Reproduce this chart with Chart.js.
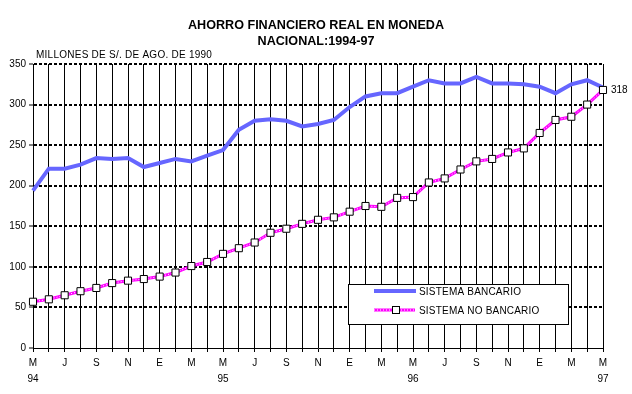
<!DOCTYPE html>
<html><head><meta charset="utf-8">
<script src="https://cdn.jsdelivr.net/npm/chart.js@4.4.0/dist/chart.umd.min.js"></script>
<style>html,body{margin:0;padding:0;background:#fff;overflow:hidden}canvas{display:block}</style>
</head><body>
<canvas id="c" width="632" height="394"></canvas>
<script>
// ---- data ----
const monthCycle = ['M','J','J','A','S','O','N','D','E','F','M','A'];
const months = [].concat(monthCycle, monthCycle, monthCycle, ['M']); // May 94 .. May 97
const years = ['94','95','96','97'];
const bancario = [194,221,221,226,234,233,234,223,228,233,230,237,244,269,280,282,280,273,276,281,297,310,314,314,322,330,326,326,334,326,326,325,322,314,325,330,321];
const noBancario = [57,60,65,70,74,80,83,85,88,93,101,106,116,123,130,142,147,153,158,161,168,175,174,185,186,204,209,220,230,233,241,246,265,281,285,300,318];
const seriesNames = ['SISTEMA BANCARIO','SISTEMA NO BANCARIO'];
const titleLines = ['AHORRO FINANCIERO REAL EN MONEDA','NACIONAL:1994-97'];
const yTitle = 'MILLONES DE S/. DE AGO. DE 1990';
const yMin = 0, yMax = 350, yStep = 50;

const FONT = 'Arial, "Liberation Sans", sans-serif';
const BLUE = '#6666ff', MAG = '#ff00ff';

const deco = {
  id: 'deco',
  afterDatasetsDraw(chart) {
    const ctx = chart.ctx, xs = chart.scales.x, ys = chart.scales.y;
    ctx.save();
    // end value label
    const last = noBancario.length - 1;
    ctx.font = '10px ' + FONT; ctx.fillStyle = '#000';
    ctx.textAlign = 'left'; ctx.textBaseline = 'middle';
    ctx.fillText(String(noBancario[last]), xs.getPixelForValue(last) + 8, ys.getPixelForValue(noBancario[last]));
    // legend
    const lx = 348, ly = 284, lw = 220, lh = 40;
    ctx.fillStyle = '#fff'; ctx.fillRect(lx, ly, lw, lh);
    ctx.strokeStyle = '#000'; ctx.lineWidth = 1; ctx.strokeRect(lx + 0.5, ly + 0.5, lw, lh);
    ctx.strokeStyle = BLUE; ctx.lineWidth = 4;
    ctx.beginPath(); ctx.moveTo(374, 291); ctx.lineTo(416, 291); ctx.stroke();
    ctx.strokeStyle = MAG; ctx.lineWidth = 3;
    ctx.beginPath(); ctx.moveTo(374, 310); ctx.lineTo(415, 310); ctx.stroke();
    ctx.strokeStyle = '#fff'; ctx.lineWidth = 1; ctx.setLineDash([1, 2]);
    ctx.beginPath(); ctx.moveTo(374, 310); ctx.lineTo(415, 310); ctx.stroke();
    ctx.setLineDash([]);
    ctx.fillStyle = '#fff'; ctx.fillRect(392, 306, 7, 7);
    ctx.strokeStyle = '#000'; ctx.strokeRect(392.5, 306.5, 7, 7);
    ctx.fillStyle = '#000';
    ctx.letterSpacing = '0.2px';
    ctx.fillText(seriesNames[0], 419, 292);
    ctx.fillText(seriesNames[1], 419, 311);
    ctx.restore();
  },
  afterDraw(chart) {
    const ctx = chart.ctx;
    ctx.save();
    ctx.fillStyle = '#000'; ctx.textBaseline = 'middle';
    ctx.textAlign = 'center'; ctx.font = 'bold 12.6px ' + FONT;
    ctx.fillText(titleLines[0], 316, 26);
    ctx.fillText(titleLines[1], 316, 42);
    ctx.textAlign = 'left'; ctx.font = '10px ' + FONT;
    ctx.letterSpacing = '0.25px';
    ctx.fillText(yTitle, 36, 55);
    ctx.restore();
  }
};

new Chart(document.getElementById('c'), {
  type: 'line',
  data: {
    labels: months,
    datasets: [
      { label: 'markers', data: noBancario, showLine: false, pointStyle: 'rect', pointRadius: 5, pointHoverRadius: 5,
        pointBackgroundColor: '#fff', pointBorderColor: '#000', pointBorderWidth: 1, clip: false, order: 0 },
      { label: 'dash', data: noBancario, borderColor: '#fff', borderWidth: 1, borderDash: [1, 2], pointRadius: 0, tension: 0, fill: false, order: 1 },
      { label: seriesNames[1], data: noBancario, borderColor: MAG, borderWidth: 3, pointRadius: 0, tension: 0, fill: false, order: 2 },
      { label: seriesNames[0], data: bancario, borderColor: BLUE, borderWidth: 4, pointRadius: 0, tension: 0, fill: false, order: 3, clip: false }
    ]
  },
  options: {
    responsive: false, animation: false, devicePixelRatio: 1,
    layout: { padding: { top: 64, right: 29, left: 0, bottom: 0 } },
    plugins: { legend: { display: false }, tooltip: { enabled: false }, title: { display: false } },
    scales: {
      x: {
        offset: false,
        grid: { color: '#000', lineWidth: 1, tickLength: 4, tickColor: '#000', tickWidth: 1 },
        border: { display: true, color: '#000', width: 1 },
        ticks: {
          autoSkip: false, maxRotation: 0, minRotation: 0, padding: 3, color: '#000',
          font: { family: FONT, size: 10, lineHeight: 1.6 },
          callback: (v, i) => {
            if (i % 2 !== 0) return '';
            if (i % 12 === 0) return [months[i], years[i / 12]];
            return months[i];
          }
        },
        afterFit: s => { s.height = 46; }
      },
      y: {
        min: yMin, max: yMax,
        grid: { color: c => (c.tick && c.tick.value === 0) ? 'rgba(0,0,0,0)' : '#000', lineWidth: 2,
                tickLength: 4, tickColor: '#000', tickWidth: 1 },
        border: { display: true, color: '#000', width: 1, dash: [3, 2] },
        ticks: { stepSize: yStep, padding: 3, color: '#000', font: { family: FONT, size: 10 } },
        afterFit: s => { s.width = 33; }
      }
    }
  },
  plugins: [deco]
});
</script>
</body></html>
